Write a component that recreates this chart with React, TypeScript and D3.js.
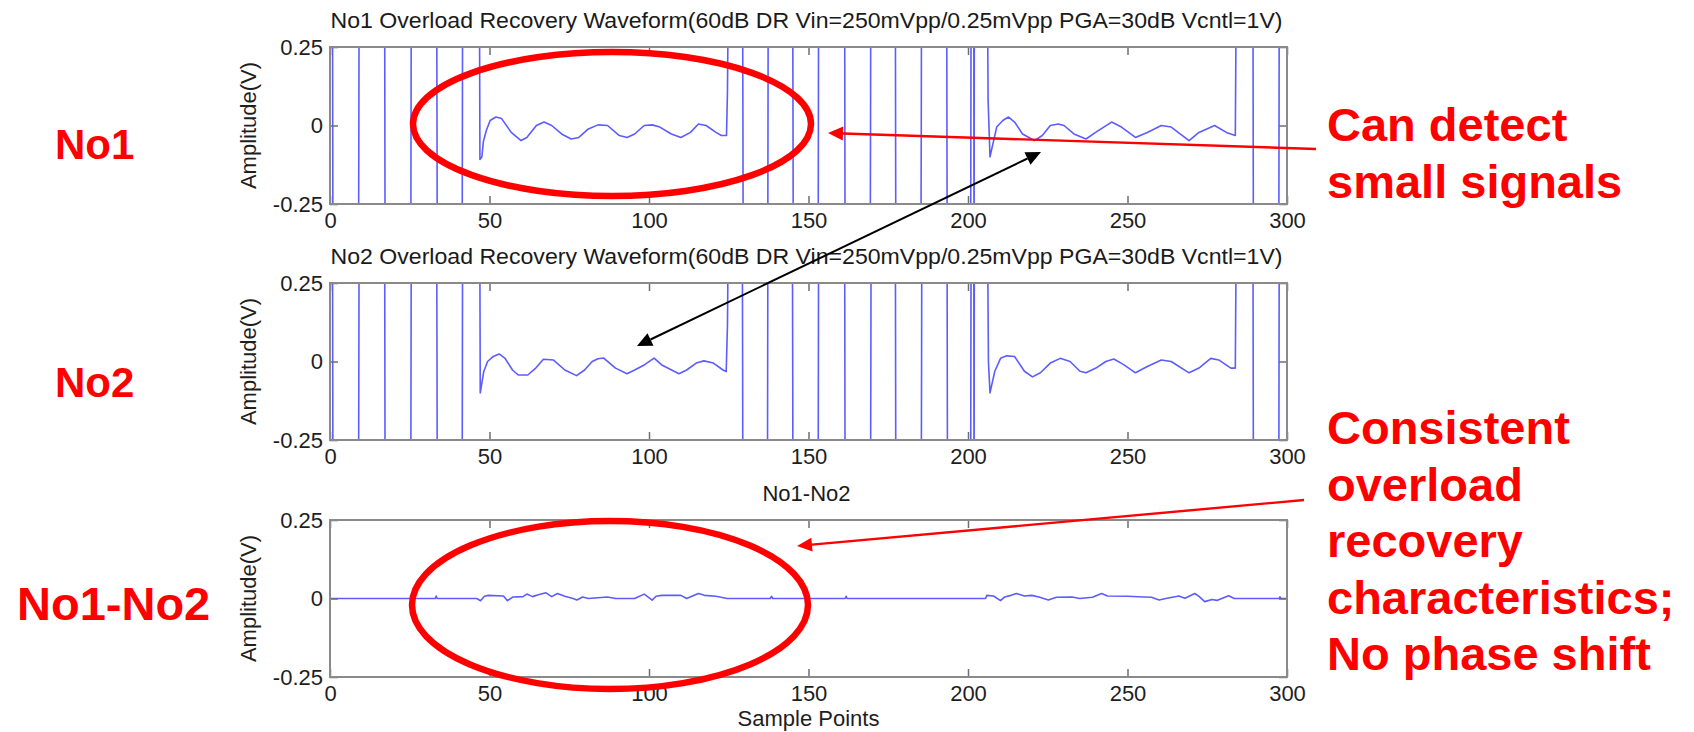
import React, { useEffect, useRef } from 'react';
import * as d3 from 'd3';

// axis ticks
const xTicks = [0, 50, 100, 150, 200, 250, 300];
const yTicks = [-0.25, 0, 0.25];

const panelTitles = [
  'No1 Overload Recovery Waveform(60dB DR Vin=250mVpp/0.25mVpp PGA=30dB Vcntl=1V)',
  'No2 Overload Recovery Waveform(60dB DR Vin=250mVpp/0.25mVpp PGA=30dB Vcntl=1V)',
  'No1-No2',
];
const rowLabels = ['No1', 'No2', 'No1-No2'];
const noteSmall = ['Can detect', 'small signals'];
const noteConsistent = ['Consistent', 'overload', 'recovery', 'characteristics;', 'No phase shift'];

// [sample, volts]  (values beyond +-0.25 are clipped by the axes)
const no1Wave: [number, number][] = [
  [0, 0.6], [0.75, 0.6], [0.95, -0.6],
  [8.9, -0.6], [9.05, 0], [9.15, 0.6],
  [17.1, 0.6], [17.3, -0.6],
  [25.3, -0.6], [25.5, 0.6],
  [33.4, 0.6], [33.55, 0], [33.65, -0.6],
  [41.4, -0.6], [41.6, 0.6],
  [46.8, 0.6], [47.0, -0.108], [47.6, -0.1], [48.1, -0.05], [49, -0.016], [50.2, 0.016],
  [52, 0.027], [53.8, 0.022], [56.8, -0.022], [59.9, -0.048], [61.7, -0.038], [64.7, 0],
  [67.1, 0.011], [69.5, 0], [72.6, -0.027], [75.6, -0.043], [78, -0.038], [81, -0.011],
  [84, 0.002], [87, 0], [90.7, -0.032], [93.1, -0.038], [95.5, -0.027], [98.5, 0],
  [101, 0.002], [103.4, -0.005], [107, -0.027], [110, -0.038], [113, -0.022], [115.5, 0.005],
  [117.9, 0], [121, -0.022], [122.7, -0.032], [124.3, -0.032], [124.6, 0.11], [125.0, 0.6],
  [129.3, 0.6], [129.45, 0], [129.55, -0.6],
  [137.2, -0.6], [137.4, 0.6],
  [145.0, 0.6], [145.15, 0], [145.25, -0.6],
  [153.0, -0.6], [153.2, 0.6],
  [161.3, 0.6], [161.5, -0.6],
  [169.3, -0.6], [169.45, 0], [169.55, 0.6],
  [177.2, 0.6], [177.4, -0.6],
  [185.2, -0.6], [185.35, -0.02], [185.45, 0.6],
  [193.3, 0.6], [193.5, -0.6],
  [200.8, -0.6], [201.0, 0.6], [201.8, 0.6], [201.9, -0.6], [202.0, 0.6],
  [206.0, 0.6], [206.3, 0.08], [206.9, -0.1], [208, -0.05], [209, -0.005], [210.9, 0.016],
  [212.7, 0.027], [214.6, 0.011], [217.1, -0.027], [220.8, -0.048], [223.3, -0.032], [225.8, 0],
  [228.3, 0.005], [230.1, 0], [233.2, -0.027], [237, -0.043], [240, -0.022], [245, 0.011],
  [248.1, -0.005], [252.5, -0.038], [256.2, -0.022], [260.6, 0], [263.7, -0.005], [269.3, -0.048],
  [272.4, -0.022], [277.3, 0], [281, -0.022], [283.8, -0.032], [284.2, 0.6],
  [289.3, 0.6], [289.5, -0.6],
  [297.4, -0.6], [297.6, 0.6], [300, 0.6],
];

const no2Wave: [number, number][] = [
  [0, 0.6], [0.75, 0.6], [0.95, -0.6],
  [8.9, -0.6], [9.05, 0], [9.15, 0.6],
  [17.1, 0.6], [17.3, -0.6],
  [25.3, -0.6], [25.5, 0.6],
  [33.4, 0.6], [33.55, 0], [33.65, -0.6],
  [41.4, -0.6], [41.6, 0.6],
  [46.9, 0.6], [47.1, -0.1], [48.2, -0.032], [49.4, 0], [51.2, 0.016], [53, 0.024],
  [54.8, 0.011], [57.2, -0.027], [59, -0.043], [62, -0.043], [64.5, -0.021], [66.9, 0.007],
  [70, 0.005], [73.6, -0.027], [77.3, -0.045], [79.8, -0.027], [82.2, 0], [84, 0.009],
  [85.8, 0.011], [89.5, -0.021], [93.1, -0.039], [95.5, -0.027], [98.5, -0.011], [101.6, 0.011],
  [104, -0.011], [109.4, -0.039], [111.8, -0.027], [114.8, -0.005], [117.2, 0.002], [120.2, -0.005],
  [123.2, -0.027], [124.2, -0.032], [124.6, 0.117], [125.0, 0.6],
  [129.2, 0.6], [129.35, 0], [129.45, -0.6],
  [137.1, -0.6], [137.3, 0.6],
  [144.9, 0.6], [145.05, 0], [145.15, -0.6],
  [153.0, -0.6], [153.2, 0.6],
  [161.3, 0.6], [161.5, -0.6],
  [169.4, -0.6], [169.55, 0], [169.65, 0.6],
  [177.2, 0.6], [177.4, -0.6],
  [185.3, -0.6], [185.45, 0], [185.55, 0.6],
  [193.4, 0.6], [193.6, -0.6],
  [200.8, -0.6], [201.0, 0.6], [201.8, 0.6], [201.9, -0.6], [202.0, 0.6],
  [206.0, 0.6], [206.4, 0], [206.9, -0.1], [208.4, -0.031], [210.2, 0.01], [212.1, 0.018],
  [214.6, 0.016], [217.7, -0.031], [220.2, -0.049], [222.7, -0.036], [225.8, -0.005], [228.9, 0.01],
  [232, 0], [235.1, -0.031], [237, -0.036], [240.1, -0.021], [243.2, 0], [245.7, 0.008],
  [248.8, -0.01], [252.5, -0.036], [256.2, -0.016], [260.6, 0.005], [263.7, 0], [269.3, -0.036],
  [272.4, -0.021], [276.1, 0.01], [278.6, 0.005], [282.4, -0.021], [283.8, -0.021], [284.2, 0.6],
  [289.3, 0.6], [289.5, -0.6],
  [297.4, -0.6], [297.6, 0.6], [300, 0.6],
];

const diffWave: [number, number][] = [
  [0, 0], [33, 0], [33.3, 0.008], [33.6, 0], [46, 0], [47.2, -0.007], [48.4, 0.007], [49.6, 0.01],
  [54.4, 0.008], [55.6, -0.007], [57.4, 0.005], [60.5, 0.006], [61.7, 0.014], [63.5, 0.006],
  [65.3, 0.012], [67.7, 0.018], [69.5, 0.006], [71.3, 0.016], [73.6, 0.007], [76.2, 0],
  [77.4, -0.005], [79.2, 0.005], [81, 0], [87, 0.005], [89.5, 0], [95.5, 0], [98.5, 0.014],
  [101, -0.005], [102.2, 0.007], [104, 0.01], [110, 0.01], [111.8, 0], [115.5, 0.016],
  [117.4, 0.01], [121, 0.007], [124.5, 0], [138, 0], [138.4, 0.007], [138.8, 0], [161.5, 0],
  [161.8, 0.007], [162.1, 0], [205.5, 0], [205.9, 0.01], [208, 0.008], [210.2, -0.007],
  [211.5, 0.005], [213.5, 0.01], [215.2, 0.016], [217.7, 0.008], [220, 0.01], [222.5, 0.004],
  [225.2, -0.005], [227.7, 0.004], [232.6, 0.005], [235, 0], [239, 0.004], [241.9, 0.016],
  [243.7, 0.008], [250, 0.007], [255, 0.005], [257.5, 0.004], [259.9, -0.005], [262, 0],
  [266.1, 0.008], [268, 0.001], [271.1, 0.016], [272.5, 0.006], [274.2, -0.01], [276.5, -0.003],
  [278, -0.006], [281.7, 0.009], [283.5, 0], [297.5, 0], [297.8, 0.005], [298.1, 0], [300, 0],
];

const waves = [no1Wave, no2Wave, diffWave];

const WIDTH = 1694;
const HEIGHT = 732;
const FONT = "'Liberation Sans', Arial, sans-serif";

const App = () => {
  const svgRef = useRef<SVGSVGElement>(null);

  useEffect(() => {
    const svg = d3.select(svgRef.current);
    svg.selectAll('*').remove();

    const plotLeft = 330;
    const plotRight = 1287;
    const plotH = 157;
    const tops = [47, 283, 520];

    const x = d3.scaleLinear().domain([0, 300]).range([plotLeft, plotRight]);
    const line = d3.line<[number, number]>();

    tops.forEach((top, i) => {
      const y = d3.scaleLinear().domain([-0.25, 0.25]).range([top + plotH, top]);
      const g = svg.append('g');

      const clipId = `clip-${i}`;
      g.append('clipPath')
        .attr('id', clipId)
        .append('rect')
        .attr('x', plotLeft)
        .attr('y', top)
        .attr('width', plotRight - plotLeft)
        .attr('height', plotH);

      // waveform
      line.x(d => x(d[0])).y(d => y(d[1]));
      g.append('path')
        .datum(waves[i])
        .attr('clip-path', `url(#${clipId})`)
        .attr('fill', 'none')
        .attr('stroke', '#5c5cff')
        .attr('stroke-width', 1.6)
        .attr('stroke-linejoin', 'round')
        .attr('d', line);

      // axes (inward ticks)
      const styleAxis = (sel) => {
        sel.select('.domain').remove();
        sel.selectAll('.tick line').attr('stroke', '#6e6e6e').attr('stroke-width', 1.5);
        sel.selectAll('text')
          .attr('font-family', FONT)
          .attr('font-size', 22)
          .attr('fill', '#1e1e1e');
      };

      g.append('g')
        .attr('transform', `translate(0,${top + plotH})`)
        .call(d3.axisBottom(x).tickValues(xTicks).tickSizeInner(-8).tickSizeOuter(0).tickPadding(8.5).tickFormat(d => String(d)))
        .call(styleAxis);
      g.append('g')
        .attr('transform', `translate(0,${top})`)
        .call(d3.axisTop(x).tickValues(xTicks).tickSizeInner(-8).tickSizeOuter(0).tickFormat(() => ''))
        .call(styleAxis);
      g.append('g')
        .attr('transform', `translate(${plotLeft},0)`)
        .call(d3.axisLeft(y).tickValues(yTicks).tickSizeInner(-8).tickSizeOuter(0).tickPadding(7).tickFormat(d => String(d)))
        .call(styleAxis);
      g.append('g')
        .attr('transform', `translate(${plotRight},0)`)
        .call(d3.axisRight(y).tickValues(yTicks).tickSizeInner(-8).tickSizeOuter(0).tickFormat(() => ''))
        .call(styleAxis);

      // frame
      g.append('rect')
        .attr('x', plotLeft)
        .attr('y', top)
        .attr('width', plotRight - plotLeft)
        .attr('height', plotH)
        .attr('fill', 'none')
        .attr('stroke', '#8a8a8a')
        .attr('stroke-width', 2);

      // title
      const title = g.append('text')
        .attr('x', (plotLeft + plotRight) / 2 - 2)
        .attr('y', top - 19)
        .attr('text-anchor', 'middle')
        .attr('font-family', FONT)
        .attr('font-size', 22)
        .attr('fill', '#1a1a1a')
        .text(panelTitles[i]);
      if (i < 2) title.attr('textLength', 952).attr('lengthAdjust', 'spacingAndGlyphs');

      // y label
      g.append('text')
        .attr('transform', `translate(256,${top + plotH / 2}) rotate(-90)`)
        .attr('text-anchor', 'middle')
        .attr('font-family', FONT)
        .attr('font-size', 22)
        .attr('fill', '#1e1e1e')
        .text('Amplitude(V)');

      // big red row label
      svg.append('text')
        .attr('x', [55, 55, 17][i])
        .attr('y', [159, 397, 620][i])
        .attr('font-family', FONT)
        .attr('font-weight', 'bold')
        .attr('font-size', i < 2 ? 42 : 47)
        .attr('fill', '#ff0000')
        .text(rowLabels[i]);
    });

    svg.append('text')
      .attr('x', (plotLeft + plotRight) / 2)
      .attr('y', 726)
      .attr('text-anchor', 'middle')
      .attr('font-family', FONT)
      .attr('font-size', 22)
      .attr('fill', '#1e1e1e')
      .text('Sample Points');

    // annotation notes
    const addNote = (lines, baseline) => {
      lines.forEach((t, k) => {
        svg.append('text')
          .attr('x', 1327)
          .attr('y', baseline + k * 56.5)
          .attr('font-family', FONT)
          .attr('font-weight', 'bold')
          .attr('font-size', 47)
          .attr('fill', '#ff0000')
          .text(t);
      });
    };
    addNote(noteSmall, 141);
    addNote(noteConsistent, 444);

    // ellipses
    [[612, 124, 199, 72], [610, 605, 198, 84]].forEach(([cx, cy, rx, ry]) => {
      svg.append('ellipse')
        .attr('cx', cx).attr('cy', cy).attr('rx', rx).attr('ry', ry)
        .attr('fill', 'none')
        .attr('stroke', '#ff0000')
        .attr('stroke-width', 6.5);
    });

    const head = (x1, y1, x2, y2, color, len = 15, half = 7) => {
      const a = Math.atan2(y2 - y1, x2 - x1);
      const bx = x2 - len * Math.cos(a);
      const by = y2 - len * Math.sin(a);
      const pts = [
        [x2, y2],
        [bx + half * Math.sin(a), by - half * Math.cos(a)],
        [bx - half * Math.sin(a), by + half * Math.cos(a)],
      ];
      svg.append('polygon').attr('points', pts.map(p => p.join(',')).join(' ')).attr('fill', color);
      return [bx, by];
    };

    const arrow = (x1, y1, x2, y2, color, width, both = false) => {
      const [ex, ey] = head(x1, y1, x2, y2, color);
      let sx = x1, sy = y1;
      if (both) [sx, sy] = head(x2, y2, x1, y1, color);
      svg.append('line')
        .attr('x1', sx).attr('y1', sy).attr('x2', ex).attr('y2', ey)
        .attr('stroke', color)
        .attr('stroke-width', width);
    };

    arrow(1316, 149, 828, 133, '#ff0000', 2.4);
    arrow(1304, 500, 797, 546, '#ff0000', 2.4);
    arrow(637, 346, 1041, 152, '#000000', 2, true);
  }, []);

  return (
    <div style={{ position: 'absolute', left: 0, top: 0, background: '#fff' }}>
      <svg ref={svgRef} width={WIDTH} height={HEIGHT} style={{ display: 'block' }} />
    </div>
  );
};

export default App;
